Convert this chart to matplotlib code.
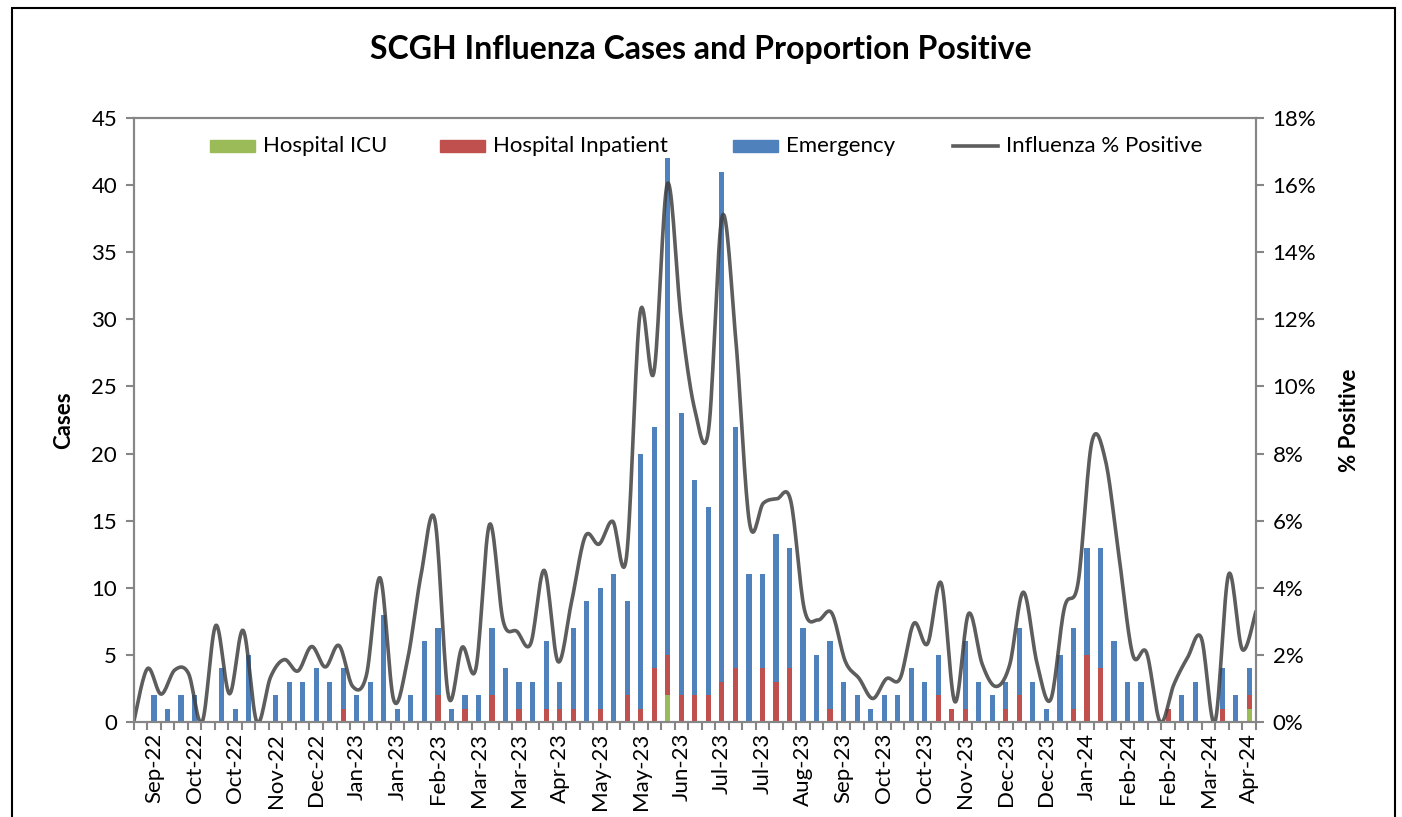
import numpy as np
import matplotlib
matplotlib.use("Agg")
import matplotlib.pyplot as plt
from matplotlib.patches import Rectangle
from matplotlib.lines import Line2D
from matplotlib.ticker import FuncFormatter

plt.rcParams['font.family'] = ['Lato', 'DejaVu Sans']

# weekly counts (83 weeks, Sep-22 .. Apr-24)
total_cases = [0, 2, 1, 2, 2, 0, 4, 1, 5, 0,
               2, 3, 3, 4, 3, 4, 2, 3, 8, 1,
               2, 6, 7, 1, 2, 2, 7, 4, 3, 3,
               6, 3, 7, 9, 10, 11, 9, 20, 22, 42,
               23, 18, 16, 41, 22, 11, 11, 14, 13, 7,
               5, 6, 3, 2, 1, 2, 2, 4, 3, 5,
               1, 6, 3, 2, 3, 7, 3, 1, 5, 7,
               13, 13, 6, 3, 3, 0, 1, 2, 3, 0,
               4, 2, 4]
inpatient = [0, 0, 0, 0, 0, 0, 0, 0, 0, 0,
             0, 0, 0, 0, 0, 1, 0, 0, 0, 0,
             0, 0, 2, 0, 1, 0, 2, 0, 1, 0,
             1, 1, 1, 0, 1, 0, 2, 1, 4, 3,
             2, 2, 2, 3, 4, 0, 4, 3, 4, 0,
             0, 1, 0, 0, 0, 0, 0, 0, 0, 2,
             1, 1, 0, 0, 1, 2, 0, 0, 0, 1,
             5, 4, 0, 0, 0, 0, 1, 0, 0, 0,
             1, 0, 1]
icu = [0] * 83
icu[39] = 2
icu[82] = 1

# influenza % positive (one point per week)
pct_positive = [0, 1.59, 0.83, 1.55, 1.45, 0, 2.88, 0.84, 2.73, 0,
                1.34, 1.86, 1.52, 2.25, 1.64, 2.28, 1.06, 1.39, 4.3, 0.65,
                1.84, 4.4, 6.03, 0.76, 2.23, 1.59, 5.89, 3.0, 2.7, 2.33,
                4.52, 1.8, 3.6, 5.54, 5.3, 5.98, 4.9, 12.2, 10.4, 16.05,
                12.0, 9.3, 8.7, 15.08, 11.35, 5.92, 6.52, 6.65, 6.6, 3.36,
                3.04, 3.25, 1.8, 1.3, 0.7, 1.29, 1.3, 2.94, 2.33, 4.14,
                0.6, 3.23, 1.72, 1.06, 1.7, 3.87, 1.75, 0.67, 3.4, 4.15,
                8.33, 7.8, 4.9, 2.0, 2.07, 0, 1.12, 1.92, 2.51, 0,
                4.4, 2.16, 3.3]

tick_labels = ['Sep-22', 'Oct-22', 'Oct-22', 'Nov-22', 'Dec-22', 'Jan-23', 'Jan-23',
               'Feb-23', 'Mar-23', 'Mar-23', 'Apr-23', 'May-23', 'May-23', 'Jun-23',
               'Jul-23', 'Jul-23', 'Aug-23', 'Sep-23', 'Oct-23', 'Oct-23', 'Nov-23',
               'Dec-23', 'Dec-23', 'Jan-24', 'Feb-24', 'Feb-24', 'Mar-24', 'Apr-24']

series_names = ['Hospital ICU', 'Hospital Inpatient', 'Emergency', 'Influenza % Positive']


def smooth(xs, ys, n=16):
    # excel style smoothed line (catmull-rom bezier)
    xs = np.asarray(xs, float)
    ys = np.asarray(ys, float)
    px = np.concatenate([[xs[0]], xs, [xs[-1]]])
    py = np.concatenate([[ys[0]], ys, [ys[-1]]])
    outx, outy = [], []
    t = np.linspace(0, 1, n, endpoint=False)
    for i in range(1, len(px) - 2):
        p0x, p1x, p2x, p3x = px[i], px[i] + (px[i + 1] - px[i - 1]) / 6, px[i + 1] - (px[i + 2] - px[i]) / 6, px[i + 1]
        p0y, p1y, p2y, p3y = py[i], py[i] + (py[i + 1] - py[i - 1]) / 6, py[i + 1] - (py[i + 2] - py[i]) / 6, py[i + 1]
        a = (1 - t) ** 3
        b = 3 * (1 - t) ** 2 * t
        c = 3 * (1 - t) * t ** 2
        d = t ** 3
        outx.extend(a * p0x + b * p1x + c * p2x + d * p3x)
        outy.extend(a * p0y + b * p1y + c * p2y + d * p3y)
    outx.append(xs[-1])
    outy.append(ys[-1])
    return np.array(outx), np.array(outy)


n = len(total_cases)
x = np.arange(n)
icu = np.array(icu)
inp = np.array(inpatient)
emerg = np.array(total_cases) - inp - icu

green = '#9BBB59'
red = '#C0504D'
blue = '#4F81BD'
grey = '#868686'
linec = '#404040'

W, H = 1402, 817
fig = plt.figure(figsize=(W / 100, H / 100), dpi=100)
ax = fig.add_axes([133.7 / W, 1 - 722 / H, (1256 - 133.7) / W, (722 - 118) / H])

w = 0.38
ax.bar(x, icu, w, color=green)
ax.bar(x, inp, w, bottom=icu, color=red)
ax.bar(x, emerg, w, bottom=icu + inp, color=blue)

ax.set_xlim(-0.5, n - 0.5)
ax.set_ylim(0, 45)
ax.set_yticks(np.arange(0, 46, 5))
ax.set_xticks(np.arange(1, n, 3))
ax.set_xticklabels(tick_labels, rotation=90)
ax.set_xticks(np.arange(-0.5, n, 1), minor=True)
ax.tick_params(axis='x', which='major', length=0, pad=8, labelsize=16)
ax.tick_params(axis='x', which='minor', length=6, width=1.5, color=grey)
ax.tick_params(axis='y', length=6, width=1.5, color=grey, labelsize=16, pad=6)
for s in ax.spines.values():
    s.set_color(grey)
    s.set_linewidth(1.5)
ax.set_ylabel('Cases', fontsize=16, fontweight='bold', labelpad=12)

ax2 = ax.twinx()
lx, ly = smooth(np.linspace(-0.5, n - 0.5, n), np.array(pct_positive) / 100)
ax2.plot(lx, ly, color=linec, lw=2.6, alpha=0.85, solid_capstyle='round')
ax2.set_ylim(0, 0.18)
ax2.set_yticks(np.arange(0, 0.181, 0.02))
ax2.yaxis.set_major_formatter(FuncFormatter(lambda v, p: f'{v * 100:.0f}%'))
ax2.tick_params(axis='y', length=6, width=1.5, color=grey, labelsize=16, pad=6)
for s in ax2.spines.values():
    s.set_color(grey)
    s.set_linewidth(1.5)
ax2.set_ylabel('% Positive', fontsize=16, fontweight='bold', labelpad=16, rotation=90)

# legend laid out like the excel one
key_x = [210, 440, 733, 953]
key_colors = [green, red, blue, linec]
ly0 = 1 - 146 / H
for i, (kx, kc, name) in enumerate(zip(key_x, key_colors, series_names)):
    if i < 3:
        fig.add_artist(Rectangle((kx / W, ly0 - 6 / H), 45 / W, 12 / H,
                                 transform=fig.transFigure, color=kc, zorder=5))
    else:
        fig.add_artist(Line2D([kx / W, (kx + 45) / W], [ly0, ly0], transform=fig.transFigure,
                              color=kc, lw=2.6, alpha=0.85, zorder=5))
    fig.text((kx + 53) / W, ly0, name, ha='left', va='center', fontsize=16, zorder=5)

fig.text(0.5, 1 - 50 / H, 'SCGH Influenza Cases and Proportion Positive',
         ha='center', va='center', fontsize=23, fontweight='bold')

fig.add_artist(Rectangle((12 / W, -0.1), (1395 - 12) / W, 1.1 - 8 / H,
                         transform=fig.transFigure, fill=False, ec='black', lw=1.5))

fig.savefig('out.png', dpi=100)
